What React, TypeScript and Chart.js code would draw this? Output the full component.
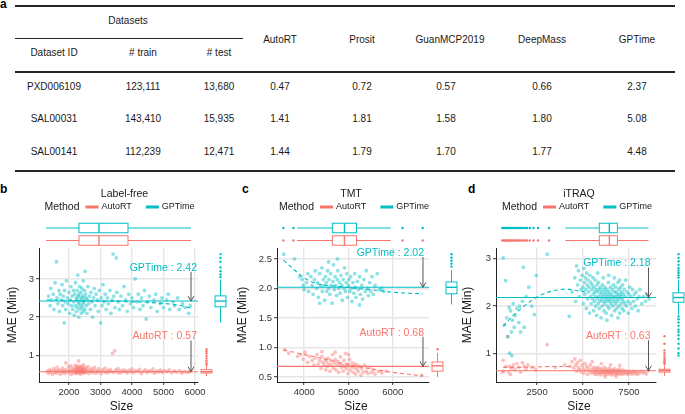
import React, { useEffect, useRef } from "react";
import { Chart, registerables } from "chart.js";

Chart.register(...registerables);

const FONT = '"Liberation Sans", Arial, Helvetica, sans-serif';
Chart.defaults.font.family = FONT;

const RED = "#F8766D";
const CYAN = "#00BFC4";
const RED_PT = "rgba(248,118,109,0.45)";
const CYAN_PT = "rgba(0,191,196,0.45)";

// ---------------- Table data ----------------
const methodNames = ["AutoRT", "Prosit", "GuanMCP2019", "DeepMass", "GPTime"];
const datasetIds = ["PXD006109", "SAL00031", "SAL00141"];
const trainCounts = ["123,111", "143,410", "112,239"];
const testCounts = ["13,680", "15,935", "12,471"];
const maeAutoRT = ["0.47", "1.41", "1.44"];
const maeProsit = ["0.72", "1.81", "1.79"];
const maeGuan = ["0.57", "1.58", "1.70"];
const maeDeepMass = ["0.66", "1.80", "1.77"];
const maeGPTime = ["2.37", "5.08", "4.48"];

// ---------------- Panel b: Label-free ----------------
const lfXTicks = [2000, 3000, 4000, 5000, 6000];
const lfYTicks = [1, 2, 3];
const lfXRange = [1048, 6095];
const lfYRange = [0.3, 3.81];
const lfMeans = [0.57, 2.42]; // AutoRT, GPTime
const lfGPTime = [[1350,2.55],[1400,2.3],[1420,2.75],[1450,2.45],[1500,2.6],[1520,2.2],[1560,2.9],[1600,3.45],[1620,2.5],[1650,2.35],[1680,2.7],[1700,2.15],[1720,2.6],[1750,2.45],[1780,2.85],[1800,2.3],[1820,2.55],[1850,1.85],[1860,2.7],[1880,2.4],[1900,2.2],[1920,2.95],[1950,2.5],[1970,2.35],[2000,2.65],[2020,2.1],[2050,2.45],[2060,2.8],[2080,2.3],[2100,2.55],[2120,2.2],[2140,2.7],[2150,2.4],[2170,2.05],[2180,2.6],[2200,2.3],[2210,2.9],[2230,2.5],[2240,2.15],[2250,2.45],[2260,2.7],[2270,2.25],[2280,3.1],[2290,2.55],[2300,2.35],[2310,2.0],[2320,2.6],[2330,2.4],[2340,2.8],[2350,2.2],[2360,2.5],[2370,2.3],[2380,2.65],[2390,2.1],[2400,2.45],[2410,2.75],[2420,2.25],[2430,2.55],[2440,2.35],[2450,2.95],[2460,2.15],[2470,2.5],[2480,2.4],[2490,2.7],[2500,2.2],[2510,3.2],[2520,2.6],[2540,2.3],[2550,2.5],[2570,2.1],[2590,2.45],[2600,2.8],[2620,2.35],[2650,2.55],[2680,2.2],[2700,2.65],[2730,2.4],[2750,2.0],[2780,2.5],[2800,2.75],[2830,2.3],[2860,2.6],[2900,2.45],[2930,2.15],[2960,2.7],[3000,1.85],[3020,2.5],[3050,2.3],[3080,2.85],[3100,2.4],[3150,2.6],[3180,2.2],[3220,2.5],[3250,2.35],[3300,2.7],[3330,2.1],[3370,2.45],[3400,3.65],[3420,2.55],[3460,2.25],[3500,3.55],[3520,2.65],[3560,2.4],[3600,2.2],[3650,2.55],[3700,2.3],[3750,2.8],[3800,2.45],[3850,2.15],[3900,2.6],[3950,2.35],[4000,2.5],[4050,2.25],[4100,3.0],[4150,2.4],[4200,2.6],[4250,2.2],[4300,2.5],[4350,2.3],[4400,2.7],[4450,1.95],[4500,2.4],[4550,2.55],[4600,2.25],[4700,2.45],[4750,2.6],[4800,2.15],[4900,2.35],[4950,2.5],[5000,2.25],[5100,2.45],[5150,2.6],[5200,2.2],[5300,2.4],[5350,2.3],[5450,2.5],[5500,2.2],[5600,2.35],[5700,2.25],[5800,2.1],[5850,2.3]];
const lfAutoRT = [[1300,0.58],[1350,0.52],[1380,0.62],[1420,0.55],[1450,0.6],[1480,0.5],[1520,0.65],[1550,0.56],[1580,0.6],[1600,0.53],[1630,0.68],[1660,0.57],[1690,0.62],[1720,0.5],[1750,0.6],[1780,0.55],[1800,0.66],[1830,0.58],[1860,0.52],[1880,0.62],[1900,0.8],[1920,0.56],[1950,0.6],[1980,0.7],[2000,0.54],[2020,0.62],[2040,0.58],[2060,0.72],[2080,0.5],[2100,0.6],[2120,0.66],[2140,0.55],[2160,0.62],[2180,0.58],[2200,0.74],[2210,0.52],[2220,0.64],[2230,0.57],[2240,0.68],[2250,0.6],[2260,0.53],[2270,0.7],[2280,0.62],[2290,0.56],[2300,0.85],[2310,0.6],[2320,0.66],[2330,0.54],[2340,0.72],[2350,0.58],[2360,0.63],[2370,0.5],[2380,0.67],[2390,0.6],[2400,0.56],[2410,0.7],[2420,0.62],[2430,0.55],[2440,0.65],[2450,0.59],[2460,0.75],[2470,0.53],[2480,0.62],[2490,0.57],[2500,0.68],[2520,0.6],[2540,0.55],[2560,0.64],[2580,0.58],[2600,0.7],[2630,0.52],[2660,0.62],[2690,0.57],[2720,0.65],[2750,0.55],[2780,0.6],[2810,0.68],[2840,0.53],[2870,0.6],[2900,0.56],[2940,0.64],[2980,0.58],[3020,0.52],[3060,0.62],[3100,0.57],[3140,0.66],[3180,0.54],[3220,0.6],[3260,0.56],[3300,0.63],[3340,0.58],[3380,1.05],[3420,0.55],[3450,1.12],[3480,0.62],[3520,0.57],[3560,0.65],[3600,0.53],[3650,0.6],[3700,0.56],[3750,0.62],[3800,0.58],[3850,0.54],[3900,0.61],[3950,0.57],[4000,0.64],[4060,0.55],[4120,0.6],[4180,0.57],[4240,0.63],[4300,0.52],[4360,0.58],[4420,0.62],[4480,0.55],[4540,0.6],[4600,0.57],[4660,0.64],[4720,0.53],[4780,0.59],[4840,0.56],[4900,0.61],[4960,0.55],[5020,0.6],[5100,0.57],[5180,0.62],[5260,0.54],[5340,0.59],[5420,0.56],[5500,0.6],[5580,0.53],[5660,0.58],[5740,0.55],[5820,0.57]];
const lfGPTimeLoess = [[1300,2.45],[2000,2.44],[3000,2.42],[4000,2.4],[4800,2.37],[5400,2.32],[5870,2.24]];
const lfAutoRTLoess = [[1300,0.58],[3000,0.57],[5870,0.57]];
const lfSizeBox = [1270, 2317, 2952, 3873, 5873];
const lfSizeOut: number[] = [];
const lfMaeBoxAutoRT = [0.45, 0.538, 0.57, 0.624, 0.72];
const lfMaeOutAutoRT = [0.75, 0.8, 0.86, 0.92, 0.98, 1.05, 1.1, 1.15];
const lfMaeBoxGPTime = [1.85, 2.27, 2.42, 2.556, 2.98];
const lfMaeOutGPTime = [3.05, 3.12, 3.2, 3.3, 3.45, 3.55, 3.65];
const lfLabelY = [1.49, 3.29];
const lfArrowX = 5873;
const lfLabelRightX = 6063;

// ---------------- Panel c: TMT ----------------
const tmtXTicks = [4000, 5000, 6000];
const tmtYTicks = [0.5, 1.0, 1.5, 2.0, 2.5];
const tmtXRange = [3386, 6818];
const tmtYRange = [0.416, 2.685];
const tmtMeans = [0.68, 2.02];
const tmtGPTime = [[3540,2.58],[3780,2.5],[3900,2.2],[3950,2.15],[3980,2.05],[4000,1.98],[4050,2.1],[4080,2.25],[4100,1.95],[4150,2.2],[4180,2.05],[4200,1.9],[4230,2.15],[4250,2.3],[4280,2.0],[4300,2.1],[4320,1.85],[4350,2.25],[4370,2.05],[4400,2.35],[4410,1.95],[4430,2.15],[4450,2.05],[4460,1.8],[4480,2.2],[4500,2.1],[4510,1.95],[4530,2.3],[4550,2.0],[4560,2.15],[4580,1.9],[4600,2.25],[4610,2.05],[4630,1.75],[4650,2.12],[4660,2.4],[4680,1.98],[4700,2.2],[4710,2.05],[4730,1.88],[4750,2.15],[4760,2.3],[4780,2.0],[4800,2.1],[4810,1.92],[4830,2.22],[4850,2.05],[4860,1.8],[4880,2.15],[4900,2.0],[4910,2.35],[4930,1.95],[4950,2.1],[4960,2.25],[4980,1.85],[5000,2.05],[5010,2.15],[5030,1.95],[5050,2.2],[5060,2.0],[5080,1.78],[5100,2.1],[5120,1.92],[5140,2.25],[5150,2.02],[5170,1.85],[5200,2.12],[5220,1.98],[5250,2.2],[5270,1.9],[5300,2.05],[5320,1.82],[5350,2.15],[5380,1.95],[5400,2.3],[5430,2.0],[5450,1.88],[5480,2.1],[5500,1.95],[5530,2.2],[5560,1.9],[5600,2.05],[5650,2.25],[5700,1.98],[5750,2.0],[5800,1.95],[4550,2.45],[4750,2.5],[4350,1.75],[5250,1.72]];
const tmtAutoRT = [[3560,0.96],[3650,0.9],[3850,0.85],[3920,0.88],[3980,0.8],[4020,0.92],[4080,0.75],[4120,0.85],[4180,0.78],[4220,0.7],[4250,0.82],[4290,0.88],[4320,0.72],[4350,0.78],[4380,0.65],[4400,0.85],[4420,0.75],[4450,0.7],[4470,0.8],[4490,0.62],[4500,0.76],[4520,0.68],[4540,0.82],[4560,0.72],[4580,0.6],[4600,0.78],[4620,0.7],[4640,0.88],[4660,0.65],[4680,0.74],[4700,0.8],[4720,0.62],[4740,0.7],[4760,0.76],[4780,0.58],[4800,0.72],[4820,0.84],[4840,0.66],[4860,0.7],[4880,0.6],[4900,0.78],[4910,0.68],[4930,0.9],[4950,0.64],[4970,0.72],[4990,0.56],[5000,0.7],[5020,0.8],[5040,0.62],[5060,0.68],[5080,0.74],[5100,0.58],[5120,0.66],[5140,0.72],[5160,0.55],[5180,0.64],[5200,0.7],[5220,0.6],[5250,0.68],[5280,0.53],[5300,0.64],[5330,0.58],[5360,0.7],[5400,0.6],[5440,0.56],[5480,0.66],[5520,0.58],[5560,0.62],[5600,0.55],[5680,0.6],[5750,0.57],[5850,0.6],[4400,0.93],[4700,0.92],[5000,0.88],[6650,0.53]];
const tmtGPTimeLoess = [[3530,2.48],[3800,2.3],[4000,2.18],[4300,2.08],[4700,2.04],[5200,2.0],[5600,1.97],[6100,1.93],[6680,1.91]];
const tmtAutoRTLoess = [[3530,0.96],[4000,0.88],[4500,0.8],[5000,0.71],[5500,0.64],[6000,0.58],[6680,0.52]];
const tmtSizeBox = [3841, 4636, 4909, 5182, 5955];
const tmtSizeOut = [3530, 3757, 6220, 6675];
const tmtMaeBoxAutoRT = [0.5, 0.6, 0.69, 0.755, 0.91];
const tmtMaeOutAutoRT = [0.97];
const tmtMaeBoxGPTime = [1.73, 1.91, 2.02, 2.11, 2.31];
const tmtMaeOutGPTime = [2.37, 2.42, 2.47, 2.52, 2.58];
const tmtLabelY = [1.25, 2.6];
const tmtArrowX = 6682;
const tmtLabelRightX = 6705;

// ---------------- Panel d: iTRAQ ----------------
const itXTicks = [2500, 5000, 7500];
const itYTicks = [1, 2, 3];
const itXRange = [260, 8975];
const itYRange = [0.39, 3.23];
const itMeans = [0.63, 2.18];
const itGPTime = [[650,3.02],[720,1.6],[780,2.54],[850,1.75],[900,1.35],[970,1.97],[1000,1.0],[1050,1.9],[1100,1.45],[1120,0.95],[1150,1.7],[1200,2.05],[1250,1.55],[1300,1.8],[1400,1.95],[1500,1.65],[1550,2.0],[1600,1.45],[1700,2.1],[1750,2.82],[1800,1.55],[1900,2.2],[2050,2.4],[2200,2.0],[2350,1.82],[2450,2.65],[3050,3.1],[4250,1.78],[4400,2.3],[4550,2.6],[4600,2.1],[4650,2.85],[4700,2.45],[4750,2.75],[4800,2.2],[4850,2.55],[4900,2.35],[4950,2.65],[5000,2.4],[5020,2.05],[5050,2.8],[5080,2.5],[5100,2.25],[5130,2.6],[5150,2.35],[5180,1.95],[5200,2.7],[5220,2.45],[5250,2.15],[5270,2.55],[5300,2.3],[5320,2.4],[5350,1.85],[5370,2.65],[5400,2.2],[5420,2.5],[5450,2.05],[5470,2.35],[5500,2.45],[5520,2.15],[5540,2.6],[5560,2.25],[5580,1.9],[5600,2.4],[5620,2.1],[5640,2.3],[5660,2.55],[5680,2.0],[5700,2.2],[5720,2.35],[5740,1.8],[5760,2.45],[5780,2.15],[5800,2.3],[5820,2.05],[5840,2.5],[5860,2.2],[5880,1.95],[5900,2.35],[5920,2.1],[5940,2.4],[5960,2.25],[5980,1.75],[6000,2.15],[6020,2.3],[6040,2.0],[6060,2.45],[6080,2.2],[6100,2.1],[6120,2.35],[6140,1.9],[6160,2.25],[6180,2.05],[6200,2.4],[6220,2.15],[6240,2.3],[6260,1.85],[6280,2.2],[6300,2.1],[6320,2.35],[6340,2.0],[6360,2.25],[6380,2.5],[6400,2.15],[6420,1.95],[6440,2.3],[6460,2.1],[6480,2.2],[6500,2.4],[6520,2.05],[6540,2.25],[6560,1.8],[6580,2.15],[6600,2.35],[6620,2.0],[6640,2.2],[6660,2.45],[6680,2.1],[6700,2.3],[6720,1.9],[6740,2.2],[6760,2.05],[6780,2.4],[6800,2.15],[6820,2.3],[6840,1.95],[6860,2.25],[6880,2.1],[6900,2.5],[6920,2.2],[6940,2.0],[6960,2.35],[6980,2.15],[7000,1.85],[7020,2.25],[7040,2.4],[7060,2.05],[7080,2.2],[7100,2.3],[7120,1.95],[7140,2.15],[7160,2.45],[7180,2.1],[7200,2.25],[7220,1.9],[7250,2.35],[7280,2.05],[7300,2.2],[7330,2.55],[7360,2.0],[7400,2.3],[7430,2.1],[7460,1.85],[7500,2.25],[7540,2.4],[7580,2.05],[7620,2.2],[7660,1.95],[7700,2.35],[7750,2.1],[7800,2.25],[7850,2.0],[7900,2.3],[7950,2.15],[8000,1.9],[8050,2.2],[8100,2.35],[8200,2.05],[8300,2.2],[8400,2.1],[8500,2.25],[8600,2.15],[6100,2.6],[6400,2.65],[5800,2.7],[6700,2.6],[7000,2.55],[6300,1.7],[6900,1.75]];
const itAutoRT = [[600,0.6],[650,0.85],[700,0.62],[800,0.72],[900,1.35],[950,0.6],[1000,0.72],[1050,0.55],[1100,0.68],[1200,0.75],[1300,0.65],[1400,0.78],[1500,0.7],[1600,0.6],[1700,0.8],[1800,0.72],[1900,0.66],[2000,0.75],[2200,0.7],[2400,0.65],[3050,1.18],[3500,0.7],[4000,0.75],[4300,0.72],[4400,0.82],[4500,0.68],[4550,0.88],[4600,0.75],[4650,0.62],[4700,0.8],[4750,0.7],[4800,0.65],[4850,0.85],[4900,0.6],[4950,0.75],[5000,0.68],[5050,0.58],[5100,0.78],[5150,0.64],[5200,0.72],[5250,0.55],[5300,0.68],[5350,0.62],[5400,0.75],[5450,0.58],[5500,0.66],[5550,0.6],[5600,0.7],[5630,0.56],[5660,0.64],[5700,0.6],[5730,0.68],[5760,0.55],[5800,0.62],[5830,0.7],[5860,0.58],[5900,0.65],[5930,0.6],[5960,0.54],[6000,0.67],[6030,0.61],[6060,0.57],[6100,0.64],[6130,0.6],[6160,0.7],[6200,0.56],[6230,0.63],[6260,0.59],[6300,0.66],[6330,0.55],[6360,0.62],[6400,0.6],[6430,0.68],[6460,0.57],[6500,0.63],[6530,0.59],[6560,0.54],[6600,0.65],[6630,0.6],[6660,0.57],[6700,0.62],[6730,0.67],[6760,0.55],[6800,0.61],[6830,0.58],[6860,0.64],[6900,0.56],[6930,0.62],[6960,0.59],[7000,0.66],[7040,0.55],[7080,0.61],[7120,0.58],[7160,0.64],[7200,0.56],[7250,0.6],[7300,0.63],[7350,0.57],[7400,0.6],[7450,0.55],[7500,0.62],[7560,0.58],[7620,0.6],[7680,0.56],[7740,0.62],[7800,0.58],[7860,0.61],[7920,0.55],[7980,0.6],[8050,0.57],[8150,0.62],[8250,0.58],[8350,0.6],[8450,0.56],[8550,0.63],[6000,0.78],[6500,0.75],[7000,0.74],[5500,0.82],[6200,0.5],[6800,0.5]];
const itGPTimeLoess = [[650,1.57],[1200,1.8],[1800,2.0],[2400,2.17],[3000,2.28],[3600,2.34],[4100,2.36],[4600,2.33],[5100,2.3]];
const itAutoRTLoess = [[650,0.7],[1500,0.7],[2500,0.71],[3500,0.72],[4500,0.72]];
const itSizeBox = [4030, 5888, 6434, 6872, 8566];
const itSizeOut = [600, 680, 760, 830, 900, 960, 1030, 1100, 1180, 1260, 1350, 1440, 1530, 1620, 1720, 1830, 1950, 2100, 2300, 2550, 3150];
const itMaeBoxAutoRT = [0.52, 0.6, 0.63, 0.66, 0.74];
const itMaeOutAutoRT = [0.77, 0.8, 0.83, 0.86, 0.9, 0.95, 1.0, 1.06, 1.2, 1.36];
const itMaeBoxGPTime = [1.82, 2.08, 2.18, 2.28, 2.55];
const itMaeOutGPTime = [2.6, 2.65, 2.7, 2.75, 2.8, 2.87, 2.95, 3.02, 3.1, 1.78, 1.72, 1.65, 1.58, 1.5, 1.45, 1.38, 1.3, 1.2, 1.1, 1.0, 0.95];
const itLabelY = [1.36, 2.9];
const itArrowX = 8566;
const itLabelRightX = 8675;

// ---------------- Panels ----------------
const panels = [
  {
    key: "b", title: "Label-free", titleDx: 6, left: 0, width: 232, yAxisW: 39, rightPad: 34, yTitleX: 13, yDec: 0,
    xTicks: lfXTicks, yTicks: lfYTicks, xRange: lfXRange, yRange: lfYRange, means: lfMeans,
    gp: lfGPTime, ar: lfAutoRT, gpLoess: lfGPTimeLoess, arLoess: lfAutoRTLoess,
    sizeBox: lfSizeBox, sizeOut: lfSizeOut,
    arBox: lfMaeBoxAutoRT, arOut: lfMaeOutAutoRT, gpBox: lfMaeBoxGPTime, gpOut: lfMaeOutGPTime,
    labelY: lfLabelY, arrowX: lfArrowX, labelRightX: lfLabelRightX,
  },
  {
    key: "c", title: "TMT", titleDx: -2, left: 232, width: 228, yAxisW: 45, rightPad: 31, yTitleX: 11, yDec: 1,
    xTicks: tmtXTicks, yTicks: tmtYTicks, xRange: tmtXRange, yRange: tmtYRange, means: tmtMeans,
    gp: tmtGPTime, ar: tmtAutoRT, gpLoess: tmtGPTimeLoess, arLoess: tmtAutoRTLoess,
    sizeBox: tmtSizeBox, sizeOut: tmtSizeOut,
    arBox: tmtMaeBoxAutoRT, arOut: tmtMaeOutAutoRT, gpBox: tmtMaeBoxGPTime, gpOut: tmtMaeOutGPTime,
    labelY: tmtLabelY, arrowX: tmtArrowX, labelRightX: tmtLabelRightX,
  },
  {
    key: "d", title: "iTRAQ", titleDx: 3, left: 460, width: 225, yAxisW: 36, rightPad: 29, yTitleX: 8, yDec: 0,
    xTicks: itXTicks, yTicks: itYTicks, xRange: itXRange, yRange: itYRange, means: itMeans,
    gp: itGPTime, ar: itAutoRT, gpLoess: itGPTimeLoess, arLoess: itAutoRTLoess,
    sizeBox: itSizeBox, sizeOut: itSizeOut,
    arBox: itMaeBoxAutoRT, arOut: itMaeOutAutoRT, gpBox: itMaeBoxGPTime, gpOut: itMaeOutGPTime,
    labelY: itLabelY, arrowX: itArrowX, labelRightX: itLabelRightX,
  },
];

const PANEL_TOP = 180;
const PANEL_H = 234;
const CHART_TOP_PAD = 68;
const X_AXIS_H = 32;

const toXY = (arr: number[][]) => arr.map(([x, y]) => ({ x, y }));

function drawHBox(ctx: CanvasRenderingContext2D, sx: any, yc: number, h: number, b: number[], out: number[], color: string) {
  const p = (v: number) => sx.getPixelForValue(v);
  ctx.strokeStyle = color;
  ctx.lineWidth = 1;
  ctx.beginPath();
  ctx.moveTo(p(b[0]), yc); ctx.lineTo(p(b[1]), yc);
  ctx.moveTo(p(b[3]), yc); ctx.lineTo(p(b[4]), yc);
  ctx.stroke();
  ctx.fillStyle = "#fff";
  ctx.fillRect(p(b[1]), yc - h / 2, p(b[3]) - p(b[1]), h);
  ctx.strokeRect(p(b[1]), yc - h / 2, p(b[3]) - p(b[1]), h);
  ctx.lineWidth = 1.4;
  ctx.beginPath();
  ctx.moveTo(p(b[2]), yc - h / 2); ctx.lineTo(p(b[2]), yc + h / 2);
  ctx.stroke();
  ctx.fillStyle = color;
  out.forEach((v) => { ctx.beginPath(); ctx.arc(p(v), yc, 1.2, 0, Math.PI * 2); ctx.fill(); });
}

function drawVBox(ctx: CanvasRenderingContext2D, sy: any, xc: number, w: number, b: number[], out: number[], color: string) {
  const p = (v: number) => sy.getPixelForValue(v);
  ctx.strokeStyle = color;
  ctx.lineWidth = 1;
  ctx.beginPath();
  ctx.moveTo(xc, p(b[0])); ctx.lineTo(xc, p(b[1]));
  ctx.moveTo(xc, p(b[3])); ctx.lineTo(xc, p(b[4]));
  ctx.stroke();
  ctx.fillStyle = "#fff";
  ctx.fillRect(xc - w / 2, p(b[3]), w, p(b[1]) - p(b[3]));
  ctx.strokeRect(xc - w / 2, p(b[3]), w, p(b[1]) - p(b[3]));
  ctx.lineWidth = 1.4;
  ctx.beginPath();
  ctx.moveTo(xc - w / 2, p(b[2])); ctx.lineTo(xc + w / 2, p(b[2]));
  ctx.stroke();
  ctx.fillStyle = color;
  out.forEach((v) => { ctx.beginPath(); ctx.arc(xc, p(v), 1.2, 0, Math.PI * 2); ctx.fill(); });
}

function makePlugin(cfg: any) {
  return {
    id: "marginals_" + cfg.key,
    afterDatasetsDraw(chart: any) {
      const { ctx, scales } = chart;
      const sx = scales.x, sy = scales.y;
      ctx.save();
      const names = ["AutoRT", "GPTime"];
      const colors = [RED, CYAN];
      const ax = sx.getPixelForValue(cfg.arrowX);
      const tr = sx.getPixelForValue(cfg.labelRightX);
      for (let i = 0; i < 2; i++) {
        const ly = sy.getPixelForValue(cfg.labelY[i]);
        const my = sy.getPixelForValue(cfg.means[i]);
        ctx.font = `10.5px ${FONT}`;
        ctx.fillStyle = colors[i];
        ctx.textAlign = "right";
        ctx.textBaseline = "middle";
        ctx.fillText(`${names[i]} : ${cfg.means[i].toFixed(2)}`, tr, ly);
        ctx.strokeStyle = "#555";
        ctx.lineWidth = 1;
        ctx.beginPath();
        ctx.moveTo(ax, ly + 4);
        ctx.lineTo(ax, my);
        ctx.moveTo(ax - 3, my - 5);
        ctx.lineTo(ax, my);
        ctx.lineTo(ax + 3, my - 5);
        ctx.stroke();
      }
      ctx.restore();
    },
    afterDraw(chart: any) {
      const { ctx, chartArea: ca, scales } = chart;
      const sx = scales.x, sy = scales.y;
      const cx = (ca.left + ca.right) / 2;
      ctx.save();
      // title
      ctx.fillStyle = "#1a1a1a";
      ctx.textBaseline = "middle";
      ctx.textAlign = "center";
      ctx.font = `10.5px ${FONT}`;
      ctx.fillText(cfg.title, cx + cfg.titleDx, ca.top - 53.5);
      // legend
      const ly = ca.top - 41;
      ctx.font = `10.5px ${FONT}`;
      const wM = ctx.measureText("Method").width;
      ctx.font = `9px ${FONT}`;
      const wA = ctx.measureText("AutoRT").width;
      const wG = ctx.measureText("GPTime").width;
      const key = 13;
      const total = wM + 6 + key + 3 + wA + 14 + key + 3 + wG;
      let x0 = cx - total / 2 + 1;
      ctx.textAlign = "left";
      ctx.font = `10.5px ${FONT}`;
      ctx.fillStyle = "#1a1a1a";
      ctx.fillText("Method", x0, ly);
      x0 += wM + 6;
      ctx.lineWidth = 3;
      ctx.strokeStyle = RED;
      ctx.beginPath(); ctx.moveTo(x0, ly); ctx.lineTo(x0 + key, ly); ctx.stroke();
      x0 += key + 3;
      ctx.font = `9px ${FONT}`;
      ctx.fillText("AutoRT", x0, ly);
      x0 += wA + 14;
      ctx.strokeStyle = CYAN;
      ctx.beginPath(); ctx.moveTo(x0, ly); ctx.lineTo(x0 + key, ly); ctx.stroke();
      x0 += key + 3;
      ctx.fillText("GPTime", x0, ly);
      // marginal boxplots (Size) on top
      drawHBox(ctx, sx, ca.top - 20, 9.5, cfg.sizeBox, cfg.sizeOut, CYAN);
      drawHBox(ctx, sx, ca.top - 7.5, 9.5, cfg.sizeBox, cfg.sizeOut, RED);
      // marginal boxplots (MAE) on the right
      drawVBox(ctx, sy, ca.right + 8.5, 11, cfg.arBox, cfg.arOut, RED);
      drawVBox(ctx, sy, ca.right + 22.5, 11, cfg.gpBox, cfg.gpOut, CYAN);
      // axis titles
      ctx.fillStyle = "#1a1a1a";
      ctx.font = `12px ${FONT}`;
      ctx.textAlign = "center";
      ctx.fillText("Size", cx + 3, ca.bottom + 25);
      ctx.save();
      ctx.translate(cfg.yTitleX, (ca.top + ca.bottom) / 2);
      ctx.rotate(-Math.PI / 2);
      ctx.fillText("MAE (Min)", 0, 0);
      ctx.restore();
      ctx.restore();
    },
  };
}

function buildConfig(cfg: any) {
  const line = (pts: number[][], color: string, dash: number[]) => ({
    data: toXY(pts), showLine: true, borderColor: color, borderWidth: 1.1, borderDash: dash,
    pointRadius: 0, cubicInterpolationMode: "monotone", fill: false,
  });
  const hline = (v: number, color: string) =>
    line([[cfg.xRange[0], v], [cfg.xRange[1], v]], color, []);
  const grid = { color: "#e6e6e6", lineWidth: 1.4, tickColor: "#333", tickLength: 3, tickWidth: 1, drawTicks: true };
  return {
    type: "scatter",
    data: {
      datasets: [
        hline(cfg.means[1], CYAN),
        hline(cfg.means[0], RED),
        line(cfg.gpLoess, CYAN, [4, 3]),
        line(cfg.arLoess, RED, [4, 3]),
        { data: toXY(cfg.gp), backgroundColor: CYAN_PT, pointRadius: 1.9, pointBorderWidth: 0, borderWidth: 0 },
        { data: toXY(cfg.ar), backgroundColor: RED_PT, pointRadius: 1.9, pointBorderWidth: 0, borderWidth: 0 },
      ],
    },
    options: {
      responsive: false,
      animation: false,
      events: [],
      layout: { autoPadding: false, padding: { left: 0, right: cfg.rightPad, top: CHART_TOP_PAD, bottom: 0 } },
      plugins: { legend: { display: false }, tooltip: { enabled: false }, title: { display: false } },
      scales: {
        x: {
          type: "linear", min: cfg.xRange[0], max: cfg.xRange[1],
          afterBuildTicks: (s: any) => { s.ticks = cfg.xTicks.map((v: number) => ({ value: v })); },
          afterFit: (s: any) => { s.height = X_AXIS_H; s.paddingLeft = 0; s.paddingRight = 0; },
          grid, border: { display: true, color: "#222", width: 1 },
          ticks: { font: { size: 9.5, family: FONT }, color: "#333", padding: 2, maxRotation: 0, autoSkip: false,
            callback: (v: any) => String(v) },
        },
        y: {
          type: "linear", min: cfg.yRange[0], max: cfg.yRange[1],
          afterBuildTicks: (s: any) => { s.ticks = cfg.yTicks.map((v: number) => ({ value: v })); },
          afterFit: (s: any) => { s.width = cfg.yAxisW; s.paddingTop = 0; s.paddingBottom = 0; },
          grid, border: { display: true, color: "#222", width: 1 },
          ticks: { font: { size: 9.5, family: FONT }, color: "#333", padding: 2, autoSkip: false,
            callback: (v: any) => Number(v).toFixed(cfg.yDec) },
        },
      },
    },
    plugins: [makePlugin(cfg)],
  };
}

function Panel({ cfg }: { cfg: any }) {
  const ref = useRef<HTMLCanvasElement>(null);
  useEffect(() => {
    const chart = new Chart(ref.current as HTMLCanvasElement, buildConfig(cfg) as any);
    return () => chart.destroy();
  }, []);
  return (
    <canvas
      ref={ref}
      width={cfg.width}
      height={PANEL_H}
      style={{ position: "absolute", left: cfg.left, top: PANEL_TOP, width: cfg.width, height: PANEL_H }}
    />
  );
}

// ---------------- Table layout ----------------
const colCenters = [54, 143, 219, 280, 362, 446, 542, 637];
const rowCenters = [87, 119, 152];

function Txt({ x, y, children, size = 10, bold = false, color = "#1a1a1a" }: any) {
  return (
    <div style={{ position: "absolute", left: x, top: y, transform: "translate(-50%,-50%)", whiteSpace: "nowrap",
      fontSize: size, fontWeight: bold ? 700 : 400, color, lineHeight: 1 }}>
      {children}
    </div>
  );
}

function Rule({ x1, x2, y, h }: any) {
  return <div style={{ position: "absolute", left: x1, top: y, width: x2 - x1, height: h, background: "#262626" }} />;
}

export default function App() {
  const rows = datasetIds.map((id, i) => [id, trainCounts[i], testCounts[i], maeAutoRT[i], maeProsit[i], maeGuan[i], maeDeepMass[i], maeGPTime[i]]);
  return (
    <div style={{ position: "absolute", left: 0, top: 0, width: 685, height: 414, background: "#fff", fontFamily: FONT, overflow: "hidden" }}>
      {/* panel letters */}
      <div style={{ position: "absolute", left: 0, top: -3, fontSize: 12, fontWeight: 700, fontFamily: FONT }}>a</div>
      <div style={{ position: "absolute", left: 0, top: 182, fontSize: 12, fontWeight: 700, fontFamily: FONT }}>b</div>
      <div style={{ position: "absolute", left: 242, top: 182, fontSize: 12, fontWeight: 700, fontFamily: FONT }}>c</div>
      <div style={{ position: "absolute", left: 468, top: 182, fontSize: 12, fontWeight: 700, fontFamily: FONT }}>d</div>

      {/* table */}
      <Rule x1={15} x2={675} y={5} h={2} />
      <Txt x={128} y={21}>Datasets</Txt>
      <Rule x1={15} x2={243} y={38} h={1} />
      <Txt x={colCenters[0]} y={53}>Dataset ID</Txt>
      <Txt x={colCenters[1]} y={53}># train</Txt>
      <Txt x={colCenters[2]} y={53}># test</Txt>
      {methodNames.map((m, i) => (
        <Txt key={m} x={colCenters[3 + i] + (i === 2 ? 4 : 0)} y={40}>{m}</Txt>
      ))}
      <Rule x1={15} x2={675} y={71} h={2} />
      {rows.map((r, ri) =>
        r.map((v, ci) => (
          <Txt key={ri + "-" + ci} x={colCenters[ci]} y={rowCenters[ri]}>{v}</Txt>
        ))
      )}
      <Rule x1={15} x2={675} y={170} h={2} />

      {panels.map((p) => (
        <Panel key={p.key} cfg={p} />
      ))}
    </div>
  );
}
